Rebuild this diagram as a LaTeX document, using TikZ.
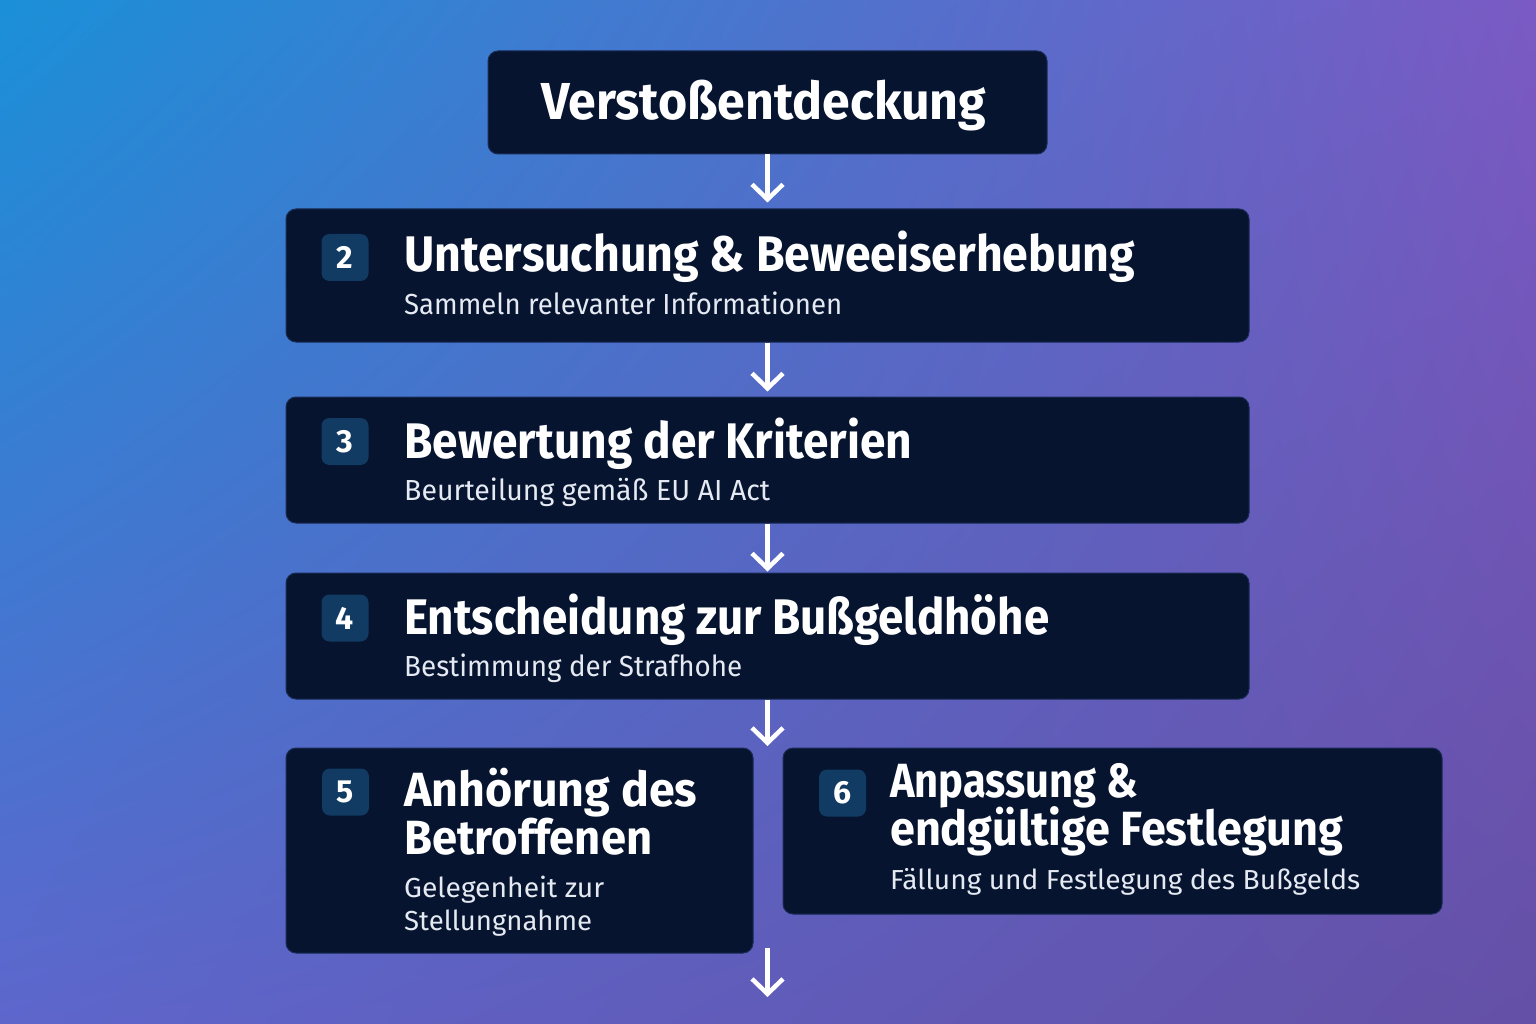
\documentclass[tikz,border=0pt]{standalone}
\usepackage{fontspec}
\usepackage{graphicx}
\setmainfont{Fira Sans}
\usetikzlibrary{arrows.meta,shadings}
\definecolor{boxfill}{HTML}{061430}
\definecolor{boxline}{HTML}{1A2C55}
\definecolor{badgecol}{HTML}{113B62}
\definecolor{subcol}{HTML}{E4E9F2}
\definecolor{bgTL}{HTML}{1A90D8}
\definecolor{bgTR}{HTML}{7B5AC4}
\definecolor{bgBL}{HTML}{5E66CC}
\definecolor{bgBR}{HTML}{6450A6}
\newcommand\fitw[2]{\resizebox{#1pt}{\height}{#2}}
\tikzset{
  card/.style={draw=boxline, line width=1pt, fill=boxfill, rounded corners=10pt, inner sep=0pt},
  badgebox/.style={fill=badgecol, rounded corners=8pt, minimum width=47pt, minimum height=47pt, inner sep=0pt, text=white, font=\fontsize{32}{32}\selectfont\bfseries},
  ttl/.style={anchor=base west, inner sep=0pt, text=white, font=\fontsize{50}{50}\selectfont\bfseries},
  ttlsm/.style={anchor=base west, inner sep=0pt, text=white, font=\fontsize{48}{48}\selectfont\bfseries},
  sub/.style={anchor=base west, inner sep=0pt, text=subcol, font=\fontsize{29}{29}\selectfont},
  subsm/.style={anchor=base west, inner sep=0pt, text=subcol, font=\fontsize{27.5}{27.5}\selectfont},
  flow/.style={draw=white, line width=4.5pt, -{Straight Barb[length=15pt,width=31pt]}}
}
\begin{document}
\begin{tikzpicture}[x=1pt,y=-1pt]
\useasboundingbox (0,0) rectangle (1536,1024);
\shade[upper left=bgTL, upper right=bgTR, lower left=bgBL, lower right=bgBR] (0,0) rectangle (1536,1024);

% box 1
\node[card, minimum width=559pt, minimum height=103pt] (b1) at (767.5,102.5) {};
\node[ttl, font=\fontsize{52}{52}\selectfont\bfseries] (t1) at (541,120) {\fitw{445}{Verstoßentdeckung}};

% box 2
\node[card, minimum width=963pt, minimum height=133pt] (b2) at (767.5,275.5) {};
\node[badgebox] (n2) at (345,257.5) {2};
\node[ttl] (t2) at (404,272) {\fitw{731}{Untersuchung \& Beweeiserhebung}};
\node[sub] (s2) at (404,315) {\fitw{438}{Sammeln relevanter Informationen}};

% box 3
\node[card, minimum width=963pt, minimum height=126pt] (b3) at (767.5,460) {};
\node[badgebox] (n3) at (345,441.5) {3};
\node[ttl] (t3) at (404,458) {\fitw{508}{Bewertung der Kriterien}};
\node[sub] (s3) at (404,500) {\fitw{366}{Beurteilung gemäß EU AI Act}};

% box 4
\node[card, minimum width=963pt, minimum height=126pt] (b4) at (767.5,636) {};
\node[badgebox] (n4) at (345,618) {4};
\node[ttl] (t4) at (404,634) {\fitw{645}{Entscheidung zur Bußgeldhöhe}};
\node[sub] (s4) at (404,676) {\fitw{338}{Bestimmung der Strafhohe}};

% box 5
\node[card, minimum width=467pt, minimum height=205pt] (b5) at (519.5,850.5) {};
\node[badgebox] (n5) at (345.5,792) {5};
\node[ttlsm] (t5a) at (404,806) {\fitw{293}{Anhörung des}};
\node[ttlsm] (t5b) at (404,854) {\fitw{248}{Betroffenen}};
\node[subsm] (s5a) at (404,897) {\fitw{200}{Gelegenheit zur}};
\node[subsm] (s5b) at (404,930) {\fitw{188}{Stellungnahme}};

% box 6
\node[card, minimum width=659pt, minimum height=166pt] (b6) at (1112.5,831) {};
\node[badgebox] (n6) at (842.5,793) {6};
\node[ttlsm] (t6a) at (890,797) {\fitw{248}{Anpassung \&}};
\node[ttlsm] (t6b) at (890,845) {\fitw{453}{endgültige Festlegung}};
\node[subsm] (s6) at (890,889) {\fitw{470}{Fällung und Festlegung des Bußgelds}};

% connectors
\coordinate (c4) at (767.5,746);
\coordinate (c5a) at (767.5,948);
\coordinate (c5b) at (767.5,997);
\draw[flow, shorten >=6pt] (b1.south) -- (b2.north);
\draw[flow, shorten >=5pt] (b2.south) -- (b3.north);
\draw[flow, shorten >=1pt] (b3.south) -- (b4.north);
\draw[flow] (b4.south) -- (c4);
\draw[flow] (c5a) -- (c5b);
\end{tikzpicture}
\end{document}
